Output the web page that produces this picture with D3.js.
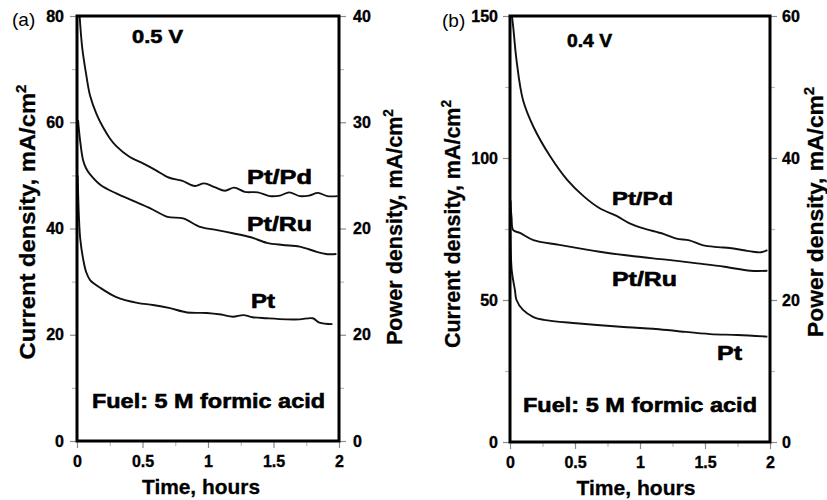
<!DOCTYPE html>
<html><head><meta charset="utf-8">
<script src="https://cdn.jsdelivr.net/npm/d3@7"></script>
<style>
html,body{margin:0;padding:0;background:#fff;}
svg{display:block;font-family:"Liberation Sans",Arial,sans-serif;}
</style></head>
<body>
<svg id="chart" width="827" height="500"></svg>
<script>
// ---------- DATA ----------
// Panel (a) 0.5 V
const tA_PtPd = [0.02,0.04,0.07,0.10,0.15,0.20,0.25,0.30,0.40,0.50,0.60,0.70,0.80,0.90,0.97,1.05,1.13,1.20,1.28,1.38,1.47,1.55,1.62,1.70,1.77,1.84,1.91,1.99];
const vA_PtPd = [80,74,69,65,61.5,59,57,55.5,53.5,52.3,51,49.6,49.0,48.0,48.5,47.8,47.1,47.7,46.9,46.8,46.1,46.2,46.8,46.1,46.2,46.7,46.1,46.1];
const tA_PtRu = [0.008,0.023,0.046,0.07,0.10,0.18,0.30,0.43,0.56,0.69,0.81,0.94,1.07,1.19,1.32,1.45,1.57,1.70,1.83,1.90,1.98];
const vA_PtRu = [60.4,56.7,52.9,51.3,50.2,48.2,46.6,45.2,43.8,42.2,41.9,40.3,39.7,39.1,38.4,37.3,36.9,36.6,35.6,35.2,35.2];
const tA_Pt = [0.005,0.015,0.025,0.048,0.07,0.10,0.18,0.30,0.46,0.58,0.71,0.84,0.99,1.10,1.19,1.27,1.34,1.45,1.60,1.70,1.80,1.85,1.95];
const vA_Pt = [50,42,38,34.1,31.8,30.3,28.8,27.1,26.0,25.6,25.0,24.2,24.1,23.8,23.4,23.7,23.3,23.1,22.9,22.9,23.1,22.3,22.0];
// Panel (b) 0.4 V
const tB_PtPd = [0.015,0.025,0.05,0.10,0.18,0.31,0.44,0.57,0.69,0.82,0.92,1.02,1.18,1.28,1.38,1.48,1.60,1.69,1.80,1.87,1.93,1.98];
const vB_PtPd = [150,146,134.5,120.4,111,100.5,92.3,86.4,82.3,79.6,77.0,75.3,73.3,71.6,71.0,69.3,68.6,68.3,67.5,67.0,66.8,67.6];
const tB_PtRu = [0.003,0.012,0.025,0.077,0.18,0.38,0.69,0.97,1.20,1.44,1.65,1.85,1.98];
const vB_PtRu = [85,79,74.6,73.6,71.1,69.4,67,65.3,64.2,62.9,61.7,60.3,60.3];
const tB_Pt = [0.003,0.013,0.038,0.05,0.10,0.18,0.26,0.51,0.90,1.10,1.28,1.54,1.75,1.98];
const vB_Pt = [85,60.6,53.5,50,46.5,44,43,41.8,40.4,39.9,39.1,38.0,37.7,37.1];

// ticks
const xTicks = [0,0.5,1,1.5,2];
const xTickLabels = ["0","0.5","1","1.5","2"];
const xMinor = [0.25,0.75,1.25,1.75];
const yA_Ticks = [0,20,40,60,80];
const yA_Minor = [10,30,50,70];
const yA2_Ticks = [0,10,20,30,40];
const yA2_Labels = ["0","20","20","30","40"];
const yA2_Minor = [5,15,25,35];
const yB_Ticks = [0,50,100,150];
const yB_Minor = [25,75,125];
const yB2_Ticks = [0,20,40,60];
const yB2_Minor = [10,30,50];

const svg = d3.select("#chart");
const TICK = "#8a8a8a", MINOR = "#bdbdbd";

function panel(cfg){
  const g = svg.append("g");
  const x = d3.scaleLinear().domain([0,2]).range([cfg.x0,cfg.x1]);
  const y = d3.scaleLinear().domain([0,cfg.yMax]).range([cfg.yB,cfg.yT]);
  const y2 = d3.scaleLinear().domain([0,cfg.y2Max]).range([cfg.yB,cfg.yT]);

  function ax(axis, tr, color){
    const a = g.append("g").attr("transform",tr).call(axis);
    a.select(".domain").remove();
    a.attr("font-family",null).attr("font-size",null);
    a.selectAll(".tick line").attr("stroke",color).attr("stroke-width",1.2);
    a.selectAll("text").attr("fill","#000").attr("font-weight","bold").attr("font-size",16)
      .attr("stroke","#000").attr("stroke-width",0.35);
    return a;
  }
  // minor ticks
  ax(d3.axisLeft(y).tickValues(cfg.yMinor).tickSize(5).tickFormat(""),`translate(${cfg.x0},0)`,MINOR);
  ax(d3.axisRight(y2).tickValues(cfg.y2Minor).tickSize(5).tickFormat(""),`translate(${cfg.x1},0)`,MINOR);
  ax(d3.axisBottom(x).tickValues(xMinor).tickSize(5).tickFormat(""),`translate(0,${cfg.yB})`,MINOR);
  // major
  ax(d3.axisLeft(y).tickValues(cfg.yTicks).tickSize(7).tickPadding(cfg.lPad).tickFormat(d3.format("d")),`translate(${cfg.x0},0)`,TICK);
  ax(d3.axisRight(y2).tickValues(cfg.y2Ticks).tickSize(7).tickPadding(cfg.rPad).tickFormat((d,i)=>cfg.y2Labels[i]),`translate(${cfg.x1},0)`,TICK);
  ax(d3.axisBottom(x).tickValues(xTicks).tickSize(7).tickPadding(8).tickFormat((d,i)=>xTickLabels[i]),`translate(0,${cfg.yB})`,TICK);

  // clip
  const cid = "clip"+cfg.id;
  svg.append("clipPath").attr("id",cid).append("rect")
     .attr("x",cfg.x0).attr("y",cfg.yT).attr("width",cfg.x1-cfg.x0).attr("height",cfg.yB-cfg.yT);
  const line = d3.line().x(d=>x(d[0])).y(d=>y(d[1])).curve(d3.curveCatmullRom.alpha(0.5));
  cfg.series.forEach(s=>{
    const pts = s.t.map((t,i)=>[t,s.v[i]]);
    g.append("path").attr("d",line(pts)).attr("fill","none").attr("stroke","#111")
      .attr("stroke-width",1.9).attr("stroke-linejoin","round").attr("clip-path",`url(#${cid})`);
  });
  // frame
  g.append("rect").attr("x",cfg.x0).attr("y",cfg.yT).attr("width",cfg.x1-cfg.x0).attr("height",cfg.yB-cfg.yT)
    .attr("fill","none").attr("stroke","#000").attr("stroke-width",3);

  // texts
  function txt(s,xx,yy,size,len,anchor){
    const t = g.append("text").attr("x",xx).attr("y",yy).attr("font-size",size)
      .attr("font-weight","bold").attr("text-anchor",anchor||"start")
      .attr("stroke","#000").attr("stroke-width",0.6).text(s);
    if(len) t.attr("textLength",len).attr("lengthAdjust","spacingAndGlyphs");
    return t;
  }
  cfg.labels.forEach(l=>txt(l.s,l.x,l.y,l.size,l.len));
  txt("Time, hours",cfg.timeX,cfg.timeY,21,cfg.timeLen,"middle").attr("stroke-width",0.3);
  g.append("text").attr("x",cfg.pl[0]).attr("y",cfg.pl[1]).attr("font-size",19).text(cfg.pl[2]);

  function vtitle(s,cx,cy,len){
    const t = g.append("text").attr("transform",`translate(${cx},${cy}) rotate(-90)`)
      .attr("text-anchor","middle").attr("font-size",22).attr("font-weight","bold")
      .attr("stroke","#000").attr("stroke-width",0.3)
      .attr("textLength",len).attr("lengthAdjust","spacingAndGlyphs");
    t.append("tspan").text(s);
    t.append("tspan").attr("font-size",14).attr("dy",-9).text("2");
  }
  vtitle("Current density, mA/cm",cfg.lt[0],cfg.lt[1],cfg.lt[2]);
  vtitle("Power density, mA/cm",cfg.rt[0],cfg.rt[1],cfg.rt[2]);
}

panel({id:"a",x0:77,x1:339,yT:16,yB:441,yMax:80,y2Max:40,
  yTicks:yA_Ticks,yMinor:yA_Minor,y2Ticks:yA2_Ticks,y2Labels:yA2_Labels,y2Minor:yA2_Minor,
  lPad:6,rPad:7,
  series:[{t:tA_PtPd,v:vA_PtPd},{t:tA_PtRu,v:vA_PtRu},{t:tA_Pt,v:vA_Pt}],
  labels:[
    {s:"0.5 V",x:132,y:43,size:19,len:51},
    {s:"Pt/Pd",x:247,y:184,size:20,len:65},
    {s:"Pt/Ru",x:247,y:231,size:20,len:65},
    {s:"Pt",x:251,y:308,size:20,len:24},
    {s:"Fuel: 5 M formic acid",x:92,y:408,size:21,len:233}
  ],
  timeX:201,timeY:494,timeLen:118,pl:[12,26,"(a)"],
  lt:[35,222,275],rt:[402,227,236]
});
panel({id:"b",x0:510,x1:770,yT:16,yB:442,yMax:150,y2Max:60,
  yTicks:yB_Ticks,yMinor:yB_Minor,y2Ticks:yB2_Ticks,y2Labels:yB2_Ticks.map(String),y2Minor:yB2_Minor,
  lPad:5,rPad:5,
  series:[{t:tB_PtPd,v:vB_PtPd},{t:tB_PtRu,v:vB_PtRu},{t:tB_Pt,v:vB_Pt}],
  labels:[
    {s:"0.4 V",x:567,y:47,size:19,len:45},
    {s:"Pt/Pd",x:612,y:205,size:19,len:61},
    {s:"Pt/Ru",x:612,y:286,size:20,len:65},
    {s:"Pt",x:717,y:360,size:20,len:25},
    {s:"Fuel: 5 M formic acid",x:523,y:412,size:21,len:234}
  ],
  timeX:636,timeY:495,timeLen:119,pl:[442,27,"(b)"],
  lt:[460,224,248],rt:[823,212,250]
});
</script>
</body></html>
